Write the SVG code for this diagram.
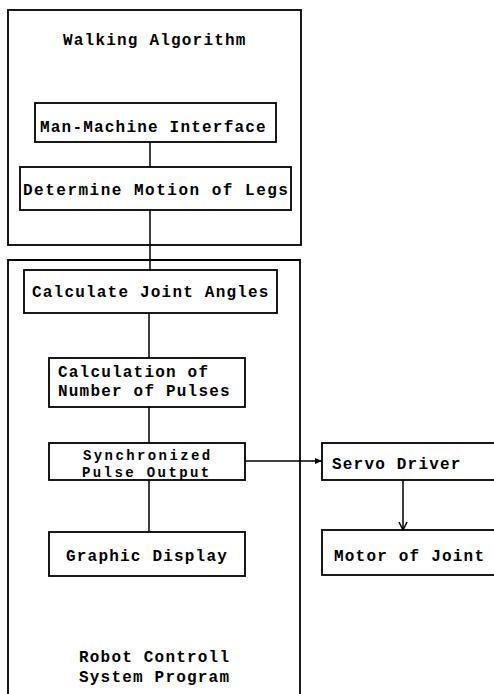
<svg xmlns="http://www.w3.org/2000/svg" width="494" height="694" viewBox="0 0 494 694">
<defs>
<style>
.box{fill:none;stroke:#000;stroke-width:1.8}
.line{fill:none;stroke:#000;stroke-width:1.5}
.t{font-family:"Liberation Mono","DejaVu Sans Mono",monospace;font-weight:bold;font-size:16px;letter-spacing:1.2px;fill:#000}
.s{font-size:14px;letter-spacing:2.4px}
</style>
<marker id="arrFill" markerWidth="8" markerHeight="8" refX="7" refY="4" orient="auto" markerUnits="userSpaceOnUse">
<path d="M0,1 L7,4 L0,7 Z" fill="#000"/>
</marker>
<marker id="arrOpen" markerWidth="10" markerHeight="10" refX="9" refY="5" orient="auto" markerUnits="userSpaceOnUse">
<path d="M1,1 L9,5 L1,9" fill="none" stroke="#000" stroke-width="1.5"/>
</marker>
</defs>
<rect width="494" height="694" fill="#fff"/>

<g id="walking-algorithm">
<rect class="box" x="8" y="10" width="293" height="235"/>
<text class="t" x="63" y="45">Walking Algorithm</text>
</g>
<g id="robot-control-system">
<path class="box" d="M8,700 V260 H300 V700"/>
<text class="t" x="79" y="662">Robot Controll</text>
<text class="t" x="79" y="682">System Program</text>
</g>

<g id="connectors">
<line class="line" x1="150" y1="142" x2="150" y2="167"/>
<line class="line" x1="150" y1="210" x2="150" y2="270"/>
<line class="line" x1="149" y1="313" x2="149" y2="358"/>
<line class="line" x1="149" y1="407" x2="149" y2="443"/>
<line class="line" x1="149" y1="480" x2="149" y2="532"/>
<line class="line" x1="245" y1="461" x2="322" y2="461" marker-end="url(#arrFill)"/>
<line class="line" x1="403" y1="480" x2="403" y2="530" marker-end="url(#arrOpen)"/>
</g>

<g id="man-machine">
<rect class="box" x="35" y="103" width="241" height="39"/>
<text class="t" x="40" y="132">Man-Machine Interface</text>
</g>
<g id="determine-motion">
<rect class="box" x="20" y="167" width="271" height="43"/>
<text class="t" x="23" y="195" style="letter-spacing:1.5px">Determine Motion of Legs</text>
</g>
<g id="joint-angles">
<rect class="box" x="24" y="270" width="253" height="43"/>
<text class="t" x="32" y="297">Calculate Joint Angles</text>
</g>
<g id="num-pulses">
<rect class="box" x="49" y="358" width="196" height="49"/>
<text class="t" x="58" y="377">Calculation of</text>
<text class="t" x="58" y="396">Number of Pulses</text>
</g>
<g id="sync-pulse">
<rect class="box" x="49" y="443" width="196" height="37"/>
<text class="t s" x="83" y="460">Synchronized</text>
<text class="t s" x="82" y="477">Pulse Output</text>
</g>
<g id="graphic-display">
<rect class="box" x="49" y="532" width="196" height="44"/>
<text class="t" x="66" y="561">Graphic Display</text>
</g>
<g id="servo-driver">
<rect class="box" x="322" y="443" width="180" height="37"/>
<text class="t" x="332" y="469">Servo Driver</text>
</g>
<g id="motor-joint">
<rect class="box" x="322" y="530" width="180" height="45"/>
<text class="t" x="334" y="561">Motor of Joint</text>
</g>
</svg>
